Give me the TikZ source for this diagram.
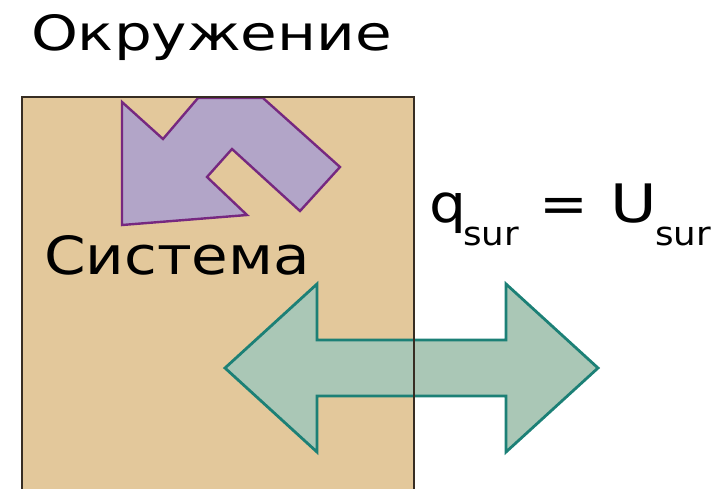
\documentclass[tikz,border=0pt]{standalone}
\usepackage{fontspec}
\setmainfont{DejaVu Sans}
\usepackage{graphicx}
\definecolor{boxfill}{RGB}{227,200,155}
\definecolor{boxline}{RGB}{55,45,35}
\definecolor{purfill}{RGB}{178,165,200}
\definecolor{purline}{RGB}{118,40,128}
\definecolor{grnfill}{RGB}{170,199,182}
\definecolor{grnline}{RGB}{28,128,118}
\tikzset{
  lbl/.style={inner sep=0pt, outer sep=0pt, anchor=base west, text=black},
  purarrow/.style={fill=purfill, draw=purline, line width=2.4pt, line join=miter},
  grnarrow/.style={fill=grnfill, draw=grnline, line width=2.8pt, line join=miter},
}
\begin{document}
\begin{tikzpicture}[x=1pt,y=-1pt]
\useasboundingbox (0,0) rectangle (717,488);
\clip (0,0) rectangle (717,488);
% system box fill
\fill[boxfill] (22,97) rectangle (414,500);
% purple arrow
\draw[purarrow] (122,102) -- (163,139) -- (198,98) -- (263,98) -- (340,167) -- (300,211)
  -- (232,149) -- (207,177) -- (247,215) -- (122,225) -- cycle;
% green double arrow
\draw[grnarrow] (225,368) -- (317,284) -- (317,340) -- (506,340) -- (506,284) -- (598,368)
  -- (506,452) -- (506,396) -- (317,396) -- (317,452) -- cycle;
% box border
\draw[boxline, line width=1.8pt] (22,500) -- (22,97) -- (414,97) -- (414,500);
% texts
\node[lbl] (env) at (31,50) {\resizebox{361pt}{36pt}{Окружение}};
\node[lbl] (sys) at (44,274) {\resizebox{266pt}{39pt}{Система}};
\node[lbl] (q) at (429,222) {\scalebox{1.1}[1]{\fontsize{53}{60}\selectfont q}};
\node[lbl] (qs) at (463,245) {\scalebox{1.08}[1]{\fontsize{33}{40}\selectfont sur}};
\node[lbl, anchor=base] (eq) at (564,222) {\scalebox{1.1}[1]{\fontsize{53}{60}\selectfont =}};
\node[lbl] (u) at (610,222) {\scalebox{1.2}[1]{\fontsize{53}{60}\selectfont U}};
\node[lbl] (us) at (655,245) {\scalebox{1.08}[1]{\fontsize{33}{40}\selectfont sur}};
\end{tikzpicture}
\end{document}
